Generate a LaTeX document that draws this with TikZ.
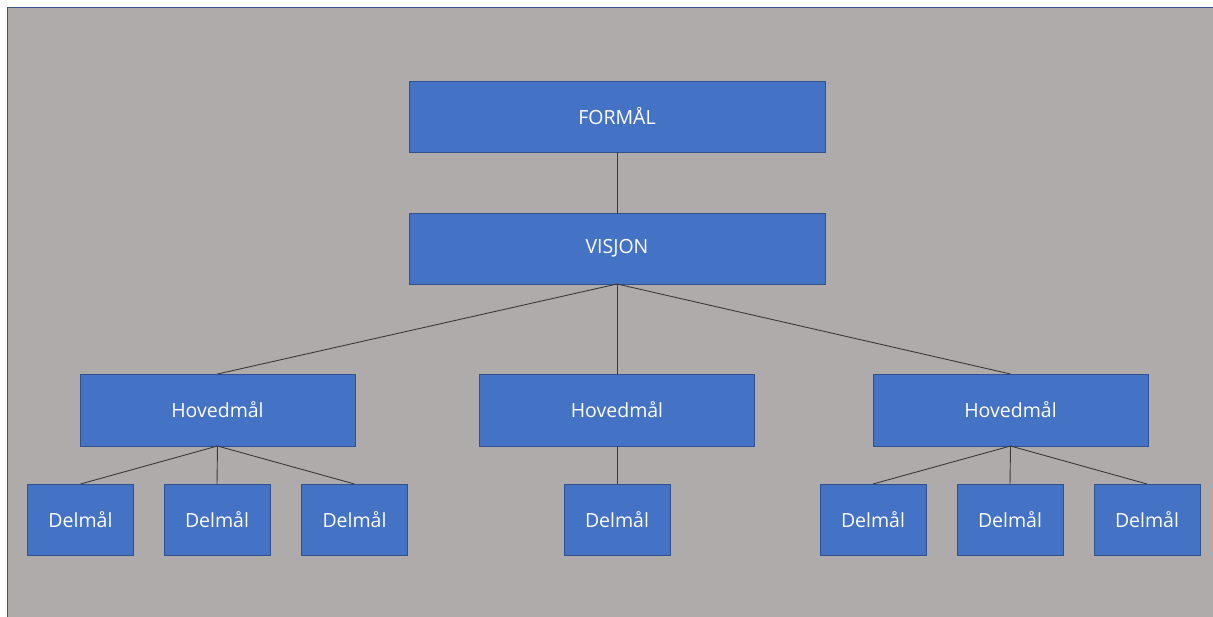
\documentclass[tikz,border=0pt]{standalone}
\usepackage{fontspec}
\setmainfont{Open Sans}
\definecolor{bg}{HTML}{AFABAB}
\definecolor{boxfill}{HTML}{4472C4}
\definecolor{boxline}{HTML}{2F528F}
\definecolor{frameline}{HTML}{3A5486}
\definecolor{conn}{HTML}{3A3A3A}
\begin{document}
\begin{tikzpicture}[x=1pt,y=-1pt,
  box/.style={draw=boxline,line width=0.9pt,fill=boxfill,text=white,
    inner sep=0pt,outer sep=0pt,font=\fontsize{19.5}{24}\selectfont},
  big/.style={box,minimum width=416pt,minimum height=71pt},
  mid/.style={box,minimum width=275pt,minimum height=72pt},
  small/.style={box,minimum width=106pt,minimum height=71pt},
  link/.style={draw=conn,line width=0.9pt}]
\useasboundingbox (0,0) rectangle (1213,617);
\begin{scope}
\clip (0,0) rectangle (1213,617);
\fill[white] (0,0) rectangle (1213,617);
\draw[frameline,line width=1.6pt,fill=bg] (7.5,7.5) rectangle (1230,640);
\end{scope}
\node[big] (formal) at (617,116.5) {FORMÅL};
\node[big] (visjon) at (617,248.5) {VISJON};
\node[mid] (h1) at (217.5,410) {Hovedmål};
\node[mid] (h2) at (617,410) {Hovedmål};
\node[mid] (h3) at (1010.5,410) {Hovedmål};
\node[small] (d1) at (80.5,519.5) {Delmål};
\node[small] (d2) at (217,519.5) {Delmål};
\node[small] (d3) at (354.5,519.5) {Delmål};
\node[small] (d4) at (617,519.5) {Delmål};
\node[small] (d5) at (873,519.5) {Delmål};
\node[small] (d6) at (1010,519.5) {Delmål};
\node[small] (d7) at (1147,519.5) {Delmål};
\draw[link] (formal.south) -- (visjon.north);
\foreach \h in {h1,h2,h3} \draw[link] (visjon.south) -- (\h.north);
\foreach \d in {d1,d2,d3} \draw[link] (h1.south) -- (\d.north);
\draw[link] (h2.south) -- (d4.north);
\foreach \d in {d5,d6,d7} \draw[link] (h3.south) -- (\d.north);
\end{tikzpicture}
\end{document}
